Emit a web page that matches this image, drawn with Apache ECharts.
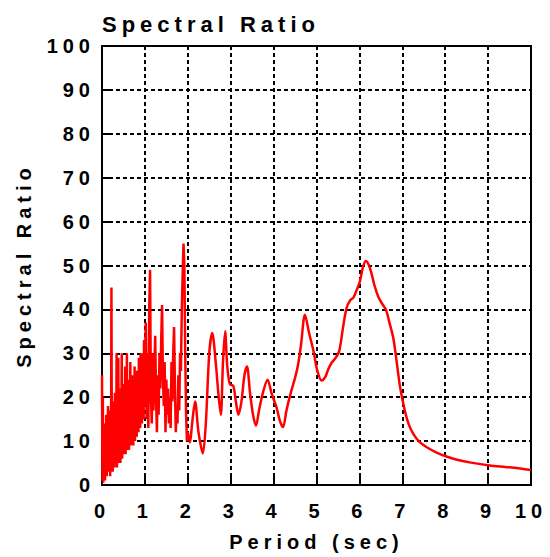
<!DOCTYPE html>
<html>
<head>
<meta charset="utf-8">
<script src="https://cdn.jsdelivr.net/npm/echarts@6/dist/echarts.min.js"></script>
<style>
  html, body { margin: 0; padding: 0; background: #fff; }
  #main { width: 550px; height: 557px; }
  #main text { letter-spacing: 5px; }
</style>
</head>
<body>
<div id="main"></div>
<script>
// noisy short-period part (sec, ratio)
var noisyPeriods = [
  0.00, 0.01, 0.02, 0.03, 0.04, 0.05, 0.06, 0.07, 0.08, 0.09,
  0.10, 0.11, 0.12, 0.13, 0.14, 0.15, 0.16, 0.17, 0.18, 0.19,
  0.20, 0.21, 0.22, 0.23, 0.24, 0.25, 0.26, 0.27, 0.28, 0.29,
  0.30, 0.31, 0.32, 0.33, 0.34, 0.35, 0.36, 0.37, 0.38, 0.39,
  0.40, 0.41, 0.42, 0.43, 0.44, 0.45, 0.46, 0.47, 0.48, 0.49,
  0.50, 0.51, 0.52, 0.53, 0.54, 0.55, 0.56, 0.57, 0.58, 0.59,
  0.60, 0.61, 0.62, 0.63, 0.64, 0.65, 0.66, 0.67, 0.68, 0.69,
  0.70, 0.71, 0.72, 0.73, 0.74, 0.75, 0.76, 0.77, 0.78, 0.79,
  0.80, 0.81, 0.82, 0.83, 0.84, 0.85, 0.86, 0.87, 0.88, 0.89,
  0.90, 0.91, 0.92, 0.93, 0.94, 0.95, 0.96, 0.97, 0.98, 0.99,
  1.00, 1.02, 1.04, 1.06, 1.08, 1.10, 1.12, 1.14, 1.16, 1.18,
  1.20, 1.22, 1.24, 1.26, 1.28, 1.30, 1.32, 1.34, 1.36, 1.38,
  1.40, 1.42, 1.44, 1.46, 1.48, 1.50, 1.52, 1.54, 1.56, 1.58,
  1.60, 1.62, 1.64, 1.66, 1.68, 1.70, 1.72, 1.74, 1.76, 1.78,
  1.80, 1.82, 1.84, 1.86, 1.88, 1.90, 1.92, 1.94, 1.96, 1.98,
  2.00
];
var noisyRatios = [
  25, 1, 20, 0.5, 12, 2, 14, 1, 13, 3,
  16, 2, 12, 4, 18, 3, 14, 5, 17, 2,
  13, 4, 45, 4, 15, 3, 19, 5, 14, 4,
  21, 5, 16, 5, 30, 4, 18, 6, 29, 5,
  17, 7, 22, 5, 20, 8, 30, 6, 18, 7,
  23, 7, 20, 9, 27, 7, 19, 8, 30, 8,
  21, 10, 24, 8, 20, 11, 28, 9, 22, 10,
  25, 11, 19, 9, 23, 12, 27, 10, 21, 13,
  24, 11, 26, 14, 22, 12, 29, 15, 23, 13,
  30, 16, 27, 14, 30, 17, 25, 15, 33, 18,
  27, 37, 15, 30, 13, 40, 49, 20, 14, 30,
  17, 26, 34, 20, 12, 25, 16, 30, 22, 33,
  41, 25, 18, 28, 12, 24, 16, 22, 14, 20,
  13, 28, 19, 30, 36, 22, 12, 18, 14, 25,
  17, 30, 26, 40, 48, 55, 50, 30, 16, 10,
  12
];
// smoother long-period part
var smoothPeriods = [
  2.00, 2.05, 2.10, 2.17, 2.25, 2.35, 2.42, 2.50, 2.57, 2.65,
  2.72, 2.77, 2.82, 2.87, 2.92, 2.98, 3.06, 3.12, 3.18, 3.25,
  3.32, 3.38, 3.45, 3.52, 3.59, 3.66, 3.75, 3.86, 3.95, 4.07,
  4.15, 4.22, 4.30, 4.40, 4.50, 4.57, 4.64, 4.73, 4.83, 4.93,
  5.02, 5.12, 5.20, 5.28, 5.35, 5.45, 5.53, 5.62, 5.70, 5.78,
  5.86, 5.94, 6.01, 6.08, 6.15, 6.25, 6.35, 6.44, 6.53, 6.62,
  6.70, 6.79, 6.87, 6.95, 7.06, 7.15, 7.26, 7.40, 7.57, 7.80,
  8.03, 8.30, 8.60, 9.04, 9.40, 9.70, 10.00
];
var smoothRatios = [
  12, 9.7, 14, 19, 12, 7.2, 14, 30, 34.6, 28,
  20, 16, 28, 35, 27, 23, 22.6, 19, 16, 19,
  25, 27, 21, 16, 13.5, 17, 21, 24, 21, 17.6,
  14.5, 13.2, 17, 21, 24.4, 27.4, 32, 38.8, 34.5, 30.5,
  26, 23.8, 24.5, 26.5, 27.8, 29, 30.5, 36, 40.3, 42,
  42.7, 44.5, 46.3, 49.5, 51, 49.3, 45.5, 42.9, 41.3, 39.9,
  37, 33.5, 28, 22.2, 16.9, 13.8, 11.6, 9.8, 8.6, 7.4,
  6.5, 5.7, 5.1, 4.45, 4.1, 3.8, 3.4
];

function pairs(xs, ys) {
  return xs.map(function (x, i) { return [x, ys[i]]; });
}

var font = 'Liberation Sans';
var chart = echarts.init(document.getElementById('main'), null, { renderer: 'svg' });

chart.setOption({
  animation: false,
  title: {
    text: 'Spectral Ratio',
    left: 97,
    top: 8,
    textStyle: { fontFamily: font, fontWeight: 'bold', fontSize: 22, color: '#000' }
  },
  grid: {
    left: 102, right: 19, top: 46, bottom: 69,
    show: true, borderColor: '#000', borderWidth: 2
  },
  xAxis: {
    type: 'value', min: 0, max: 10, interval: 1,
    name: 'Period (sec)', nameLocation: 'middle', nameGap: 47,
    nameTextStyle: { fontFamily: font, fontWeight: 'bold', fontSize: 20, color: '#000' },
    axisLine: { lineStyle: { color: '#000', width: 2 } },
    axisTick: { inside: true, length: 8, lineStyle: { color: '#000', width: 2 } },
    axisLabel: { margin: 16, fontFamily: font, fontWeight: 'bold', fontSize: 20, color: '#000' },
    splitLine: { show: true, lineStyle: { color: '#000', width: 2, type: [4, 3] } }
  },
  yAxis: {
    type: 'value', min: 0, max: 100, interval: 10,
    name: 'Spectral Ratio', nameLocation: 'middle', nameGap: 68,
    nameTextStyle: { fontFamily: font, fontWeight: 'bold', fontSize: 20, color: '#000' },
    axisLine: { lineStyle: { color: '#000', width: 2 } },
    axisTick: { inside: true, length: 8, lineStyle: { color: '#000', width: 2 } },
    axisLabel: { margin: 7, fontFamily: font, fontWeight: 'bold', fontSize: 20, color: '#000' },
    splitLine: { show: true, lineStyle: { color: '#000', width: 2, type: [4, 3] } }
  },
  series: [
    {
      type: 'line', data: pairs(noisyPeriods, noisyRatios),
      showSymbol: false, smooth: false,
      lineStyle: { color: '#ff0000', width: 2.5 }
    },
    {
      type: 'line', data: pairs(smoothPeriods, smoothRatios),
      showSymbol: false, smooth: 0.3,
      lineStyle: { color: '#ff0000', width: 2.5 }
    }
  ]
});
</script>
</body>
</html>
